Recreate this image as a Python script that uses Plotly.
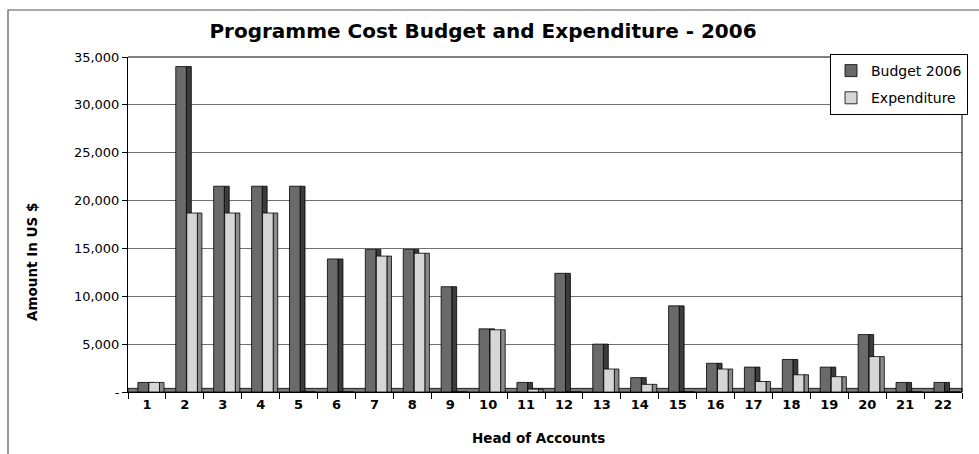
import plotly.graph_objects as go

categories = [str(i) for i in range(1, 23)]
budget_2006 = [1000, 34000, 21500, 21500, 21500, 13900, 14900, 14900, 11000, 6600, 1000,
               12400, 5000, 1500, 9000, 3000, 2600, 3400, 2600, 6000, 1000, 1000]
expenditure = [1000, 18700, 18700, 18700, 0, 0, 14200, 14500, 0, 6500, 300,
               0, 2400, 800, 0, 2400, 1100, 1800, 1600, 3700, 0, 0]
y_tickvals = [0, 5000, 10000, 15000, 20000, 25000, 30000, 35000]
y_ticktext = ["-", "5,000", "10,000", "15,000", "20,000", "25,000", "30,000", "35,000"]

FONT = "DejaVu Sans"
L, R, T, B = 128, 17, 57, 62
W, H = 979, 454
pw, ph = W - L - R, H - T - B

def px_x(p):
    return (p - L) / pw

def px_y(p):
    return (H - B - p) / ph

fig = go.Figure()
line = dict(color="black", width=0.8)
# budget side face (drawn behind expenditure front)
fig.add_trace(go.Bar(x=categories, y=budget_2006, offset=0.04, width=0.13,
                     marker=dict(color="#3c3c3c", line=line), showlegend=False, hoverinfo="skip",
                     legendgroup="a"))
fig.add_trace(go.Bar(x=categories, y=budget_2006, offset=-0.24, width=0.28, name="Budget 2006",
                     marker=dict(color="#6a6a6a", line=line), legendgroup="a"))
fig.add_trace(go.Bar(x=categories, y=expenditure, offset=0.33, width=0.12,
                     marker=dict(color="#8c8c8c", line=line), showlegend=False, hoverinfo="skip",
                     legendgroup="b"))
fig.add_trace(go.Bar(x=categories, y=expenditure, offset=0.05, width=0.28, name="Expenditure",
                     marker=dict(color="#d6d6d6", line=line), legendgroup="b"))

shapes = [
    # floor
    dict(type="rect", xref="paper", yref="y", x0=0, x1=1, y0=0, y1=380,
         fillcolor="#7a7a7a", line=dict(color="black", width=0.8), layer="below"),
    # outer chart border
    dict(type="rect", xref="paper", yref="paper", x0=px_x(8), x1=px_x(1000),
         y0=px_y(480), y1=px_y(10), line=dict(color="#555555", width=1.2)),
]

fig.update_layout(
    width=W, height=H,
    margin=dict(l=L, r=R, t=T, b=B, autoexpand=False),
    paper_bgcolor="white", plot_bgcolor="white",
    barmode="overlay",
    title=dict(text="<b>Programme Cost Budget and Expenditure - 2006</b>",
               x=px_x(483), xref="paper", xanchor="center", y=1 - 31 / H, yanchor="middle",
               font=dict(family=FONT, size=20, color="black")),
    showlegend=True,
    legend=dict(x=px_x(830), y=px_y(54), xanchor="left", yanchor="top",
                bgcolor="white", bordercolor="black", borderwidth=1,
                font=dict(family=FONT, size=14, color="black"),
                tracegroupgap=6, traceorder="grouped", itemwidth=30),
    xaxis=dict(type="category", tickson="boundaries", ticks="outside", ticklen=6,
               tickcolor="black", showline=True, linecolor="black", linewidth=1,
               mirror=False, showgrid=False,
               tickfont=dict(family=FONT, size=13, color="black", weight="bold"),
               range=[-0.5, 21.5]),
    yaxis=dict(range=[0, 35000], tickvals=y_tickvals, ticktext=y_ticktext,
               ticks="outside", ticklen=5, tickcolor="black",
               showline=True, linecolor="black", linewidth=1,
               showgrid=True, gridcolor="#6f6f6f", gridwidth=1, zeroline=False,
               tickfont=dict(family=FONT, size=13, color="black")),
    shapes=shapes,
    annotations=[
        dict(text="<b>Head of Accounts</b>", xref="paper", yref="paper",
             x=px_x(538), y=px_y(438), showarrow=False, xanchor="center", yanchor="middle",
             font=dict(family=FONT, size=13.5, color="black")),
        dict(text="<b>Amount In US $</b>", xref="paper", yref="paper",
             x=px_x(32), y=px_y(262), showarrow=False, textangle=-90,
             xanchor="center", yanchor="middle",
             font=dict(family=FONT, size=13.5, color="black")),
    ],
)
# right and top edges of the back wall
fig.add_shape(type="line", xref="paper", yref="paper", x0=1, x1=1, y0=0, y1=1,
              line=dict(color="black", width=1))
fig.add_shape(type="line", xref="paper", yref="paper", x0=0, x1=1, y0=1, y1=1,
              line=dict(color="black", width=1))

fig.write_html("out.html")
